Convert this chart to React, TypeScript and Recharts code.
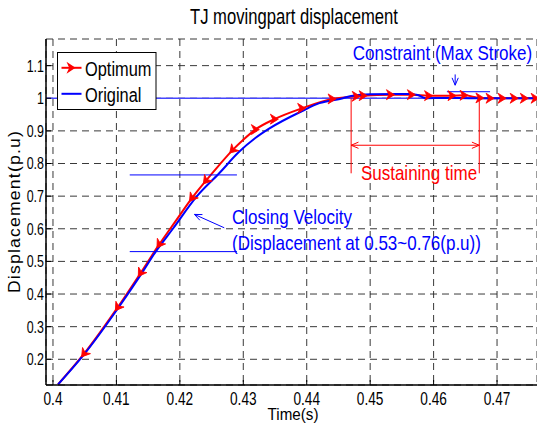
import React from 'react';
import { LineChart, Line, XAxis, YAxis, CartesianGrid, ReferenceLine, ReferenceDot } from 'recharts';

const FONT = '"Liberation Sans", Arial, Helvetica, sans-serif';

const titleText = 'TJ movingpart displacement';
const xLabelText = 'Time(s)';
const yLabelText = 'Displacement(p.u)';
const seriesNames = ['Optimum', 'Original'];
const seriesColors = ['#ff0000', '#0000ff'];

const timeTicks = [0.4, 0.41, 0.42, 0.43, 0.44, 0.45, 0.46, 0.47];
const dispTicks = [0.2, 0.3, 0.4, 0.5, 0.6, 0.7, 0.8, 0.9, 1, 1.1];
const xDomain = [0.3989, 0.4763];
const yDomain = [0.1212, 1.1816];

// Original (blue)
const originalTime = [0.4008, 0.4049, 0.4102, 0.4138, 0.4162, 0.4189, 0.4227, 0.4262, 0.4293, 0.4319, 0.434, 0.4392, 0.442, 0.4457, 0.447, 0.45, 0.456, 0.4575, 0.4588, 0.462, 0.466, 0.4763];
const originalDisp = [0.123, 0.215, 0.355, 0.458, 0.53, 0.6, 0.7, 0.77, 0.835, 0.878, 0.906, 0.96, 0.985, 1.0, 1.007, 1.012, 1.013, 1.01, 1.0, 1.001, 1.0, 1.0];

// Optimum (red)
const optimumTime = [0.4008, 0.4049, 0.4102, 0.4138, 0.41675, 0.4195, 0.4219, 0.4241, 0.4262, 0.4283, 0.43, 0.4319, 0.4349, 0.4392, 0.444, 0.4478, 0.4489, 0.4532, 0.4565, 0.4592, 0.4629, 0.4648, 0.4673, 0.4689, 0.4708, 0.4727, 0.4743, 0.476];
const optimumDisp = [0.123, 0.217, 0.359, 0.464, 0.552, 0.628, 0.694, 0.747, 0.795, 0.841, 0.873, 0.904, 0.936, 0.969, 0.998, 1.006, 1.008, 1.011, 1.011, 1.008, 1.008, 1.009, 1.001, 1.0, 1.0, 1.0, 1.0, 1.0];
const optimumMarker = [false, true, true, true, true, false, true, true, false, true, false, true, true, true, true, true, true, true, true, true, true, true, true, true, true, true, true, true];

// Annotations
const closingLow = 0.53;
const closingHigh = 0.765;
const closingSpan = [0.4121, 0.429];
const closingArrow = [[0.427, 0.603], [0.4223, 0.644]];
const closingText1 = 'Closing Velocity';
const closingText2 = '(Displacement at 0.53~0.76(p.u))';
const closingTextPos = [[0.42823, 0.6365], [0.42823, 0.558]];

const sustainStart = 0.447;
const sustainEnd = 0.4672;
const sustainTop = 1.0;
const sustainBottom = 0.77;
const sustainArrowY = 0.856;
const sustainText = 'Sustaining time';
const sustainTextPos = [0.4577, 0.772];

const constraintText = 'Constraint (Max Stroke)';
const constraintTextPos = [0.4614, 1.14];
const constraintArrow = [[0.4634, 1.073], [0.4634, 1.04]];
const constraintLine = [[0.4621, 1.02], [0.4689, 1.02]];

const originalData = originalTime.map((t, i) => ({ t, y: originalDisp[i] }));
const optimumData = optimumTime.map((t, i) => ({ t, y: optimumDisp[i], m: optimumMarker[i] }));

const fmt = (v: number) => String(v);

// squeezed text (the reference's lettering is condensed)
const NText = ({ x, y, size, sx = 0.78, anchor = 'start', color = '#000', rotate = 0, spacing = 0, children }: any) => (
  <text
    transform={`translate(${x},${y}) rotate(${rotate}) scale(${sx},1)`}
    x={0}
    y={0}
    textAnchor={anchor}
    fontFamily={FONT}
    fontSize={size}
    letterSpacing={spacing}
    fill={color}
  >
    {children}
  </text>
);

const BottomTick = (props: any) => {
  const { x, y, payload } = props;
  const axisY = y - 6;
  return (
    <g>
      <line x1={x} x2={x} y1={axisY} y2={axisY - 5} stroke="#000" strokeWidth={1} />
      <NText x={x} y={axisY + 20} size={18} sx={0.76} anchor="middle">{fmt(payload.value)}</NText>
    </g>
  );
};

const TopTick = (props: any) => {
  const { x, y } = props;
  return <line x1={x} x2={x} y1={y} y2={y + 5} stroke="#000" strokeWidth={1} />;
};

const LeftTick = (props: any) => {
  const { x, y, payload } = props;
  const axisX = x + 2;
  return (
    <g>
      <line x1={axisX} x2={axisX + 5} y1={y} y2={y} stroke="#000" strokeWidth={1} />
      <NText x={x} y={y + 5.9} size={16.4} sx={0.76} anchor="end">{fmt(payload.value)}</NText>
    </g>
  );
};

const YLabel = (props: any) => {
  const vb = props.viewBox || { x: 0, y: 39, width: 46, height: 346 };
  const cy = vb.y + vb.height / 2 - 0.5;
  return (
    <NText x={19.5} y={cy} size={16} sx={1.1} spacing={1.1} anchor="middle" rotate={-90}>{yLabelText}</NText>
  );
};

const XLabel = (props: any) => {
  const vb = props.viewBox || { x: 46, y: 385, width: 491, height: 38 };
  const cx = vb.x + vb.width / 2 + 1.5;
  return (
    <NText x={cx} y={419.5} size={16} sx={0.95} anchor="middle">{xLabelText}</NText>
  );
};

const markerPath = (w: number, h: number) =>
  `M${w / 2},0 L${-w / 2},${-h / 2} L${-w / 5},0 L${-w / 2},${h / 2} Z`;

const PX_PER_T = 491 / (xDomain[1] - xDomain[0]);
const PX_PER_Y = 346 / (yDomain[1] - yDomain[0]);

const OptDot = (props: any) => {
  const { cx, cy, payload, index } = props;
  if (!payload || !payload.m || cx == null || cy == null) return <g />;
  const a = optimumData[Math.max(0, index - 1)];
  const b = optimumData[Math.min(optimumData.length - 1, index + 1)];
  const dx = (b.t - a.t) * PX_PER_T;
  const dyUp = (b.y - a.y) * PX_PER_Y;
  const ang = (Math.atan2(dyUp, dx) * 180) / Math.PI;
  // steep part: arrowheads point back down the curve; flat part: point right
  const rot = ang > 40 ? 180 - ang : 0;
  return (
    <path
      d={markerPath(8, 10)}
      transform={`translate(${cx},${cy}) rotate(${rot})`}
      fill="#ff0000"
      stroke="#ff0000"
      strokeWidth={0.8}
    />
  );
};

const head = (x1: number, y1: number, x2: number, y2: number, len = 8, ang = 0.4) => {
  const a = Math.atan2(y2 - y1, x2 - x1);
  const p1 = [x2 - len * Math.cos(a - ang), y2 - len * Math.sin(a - ang)];
  const p2 = [x2 - len * Math.cos(a + ang), y2 - len * Math.sin(a + ang)];
  return `M${p1[0]},${p1[1]} L${x2},${y2} L${p2[0]},${p2[1]}`;
};

const makeArrow = (color: string, both: boolean) => (p: any) => {
  const { x1, y1, x2, y2 } = p;
  return (
    <g>
      <line x1={x1} y1={y1} x2={x2} y2={y2} stroke={color} strokeWidth={1} />
      <path d={head(x1, y1, x2, y2)} fill="none" stroke={color} strokeWidth={1} />
      {both && <path d={head(x2, y2, x1, y1)} fill="none" stroke={color} strokeWidth={1} />}
    </g>
  );
};

const makeText = (txt: string, color: string, anchor: string, size: number, sx: number) => (p: any) => (
  <NText x={p.cx} y={p.cy + size * 0.36} size={size} sx={sx} anchor={anchor} color={color}>{txt}</NText>
);

const LegendBox = () => (
  <svg width={100} height={59} style={{ position: 'absolute', left: 57, top: 51.5 }}>
    <rect x={0.5} y={0.5} width={98.5} height={57} fill="#fff" stroke="#000" strokeWidth={1} />
    <line x1={4.5} x2={24.5} y1={15.8} y2={15.8} stroke={seriesColors[0]} strokeWidth={2} />
    <path d={markerPath(9, 12)} transform="translate(14,15.8)" fill={seriesColors[0]} />
    <NText x={28} y={23.5} size={21} sx={0.78}>{seriesNames[0]}</NText>
    <line x1={4.5} x2={24.5} y1={41.8} y2={41.8} stroke={seriesColors[1]} strokeWidth={2} />
    <NText x={28} y={49.5} size={21} sx={0.78}>{seriesNames[1]}</NText>
  </svg>
);

const TitleSvg = () => (
  <svg width={537} height={32} style={{ position: 'absolute', left: 0, top: 0 }}>
    <NText x={294} y={24} size={22} sx={0.756} anchor="middle">{titleText}</NText>
  </svg>
);

export default function App() {
  return (
    <div style={{ position: 'absolute', left: 0, top: 0, width: 537, height: 423, background: '#fff', overflow: 'hidden' }}>
      <LineChart width={537} height={423} margin={{ top: 39, right: 0, bottom: 0, left: 0 }}>
        <CartesianGrid stroke="#222" strokeWidth={0.9} strokeDasharray="7 5" />
        <XAxis dataKey="t" type="number" domain={xDomain} ticks={timeTicks} allowDataOverflow height={38}
          axisLine={{ stroke: '#000', strokeWidth: 1.5 }} tickLine={false} tickSize={0} tickMargin={6}
          tick={<BottomTick />} interval={0} label={<XLabel />} />
        <XAxis xAxisId="top" orientation="top" dataKey="t" type="number" domain={xDomain} ticks={timeTicks} allowDataOverflow height={0}
          axisLine={{ stroke: '#000', strokeWidth: 1.5 }} tickLine={false} tickSize={0} tickMargin={0}
          tick={<TopTick />} interval={0} />
        <YAxis type="number" domain={yDomain} ticks={dispTicks} allowDataOverflow width={46}
          axisLine={{ stroke: '#000', strokeWidth: 1.5 }} tickLine={false} tickSize={0} tickMargin={2}
          tick={<LeftTick />} interval={0} label={<YLabel />} />
        <ReferenceLine y={1} stroke="#4646ff" strokeWidth={1.5} />
        <Line data={optimumData} dataKey="y" type="monotone" stroke={seriesColors[0]} strokeWidth={2} dot={<OptDot />} activeDot={false} isAnimationActive={false} name={seriesNames[0]} />
        <Line data={originalData} dataKey="y" type="monotone" stroke={seriesColors[1]} strokeWidth={2} dot={false} activeDot={false} isAnimationActive={false} name={seriesNames[1]} />
        <ReferenceLine segment={[{ x: closingSpan[0], y: closingHigh }, { x: closingSpan[1], y: closingHigh }]} stroke="#0000ff" strokeWidth={1} />
        <ReferenceLine segment={[{ x: closingSpan[0], y: closingLow }, { x: closingSpan[1], y: closingLow }]} stroke="#0000ff" strokeWidth={1} />
        <ReferenceLine segment={[{ x: closingArrow[0][0], y: closingArrow[0][1] }, { x: closingArrow[1][0], y: closingArrow[1][1] }]} stroke="#0000ff" shape={makeArrow('#0000ff', false)} />
        <ReferenceDot x={closingTextPos[0][0]} y={closingTextPos[0][1]} r={0} shape={makeText(closingText1, '#0000ff', 'start', 20, 0.85)} />
        <ReferenceDot x={closingTextPos[1][0]} y={closingTextPos[1][1]} r={0} shape={makeText(closingText2, '#0000ff', 'start', 20, 0.85)} />
        <ReferenceLine segment={[{ x: sustainStart, y: sustainTop }, { x: sustainStart, y: sustainBottom }]} stroke="#ff0000" strokeWidth={1} />
        <ReferenceLine segment={[{ x: sustainEnd, y: sustainTop }, { x: sustainEnd, y: sustainBottom }]} stroke="#ff0000" strokeWidth={1} />
        <ReferenceLine segment={[{ x: sustainStart, y: sustainArrowY }, { x: sustainEnd, y: sustainArrowY }]} stroke="#ff0000" shape={makeArrow('#ff0000', true)} />
        <ReferenceDot x={sustainTextPos[0]} y={sustainTextPos[1]} r={0} shape={makeText(sustainText, '#ff0000', 'middle', 20, 0.85)} />
        <ReferenceLine segment={[{ x: constraintLine[0][0], y: constraintLine[0][1] }, { x: constraintLine[1][0], y: constraintLine[1][1] }]} stroke="#0000ff" strokeWidth={1} />
        <ReferenceLine segment={[{ x: constraintArrow[0][0], y: constraintArrow[0][1] }, { x: constraintArrow[1][0], y: constraintArrow[1][1] }]} stroke="#0000ff" shape={makeArrow('#0000ff', false)} />
        <ReferenceDot x={constraintTextPos[0]} y={constraintTextPos[1]} r={0} shape={makeText(constraintText, '#0000ff', 'middle', 20, 0.85)} />
      </LineChart>
      <TitleSvg />
      <LegendBox />
    </div>
  );
}
